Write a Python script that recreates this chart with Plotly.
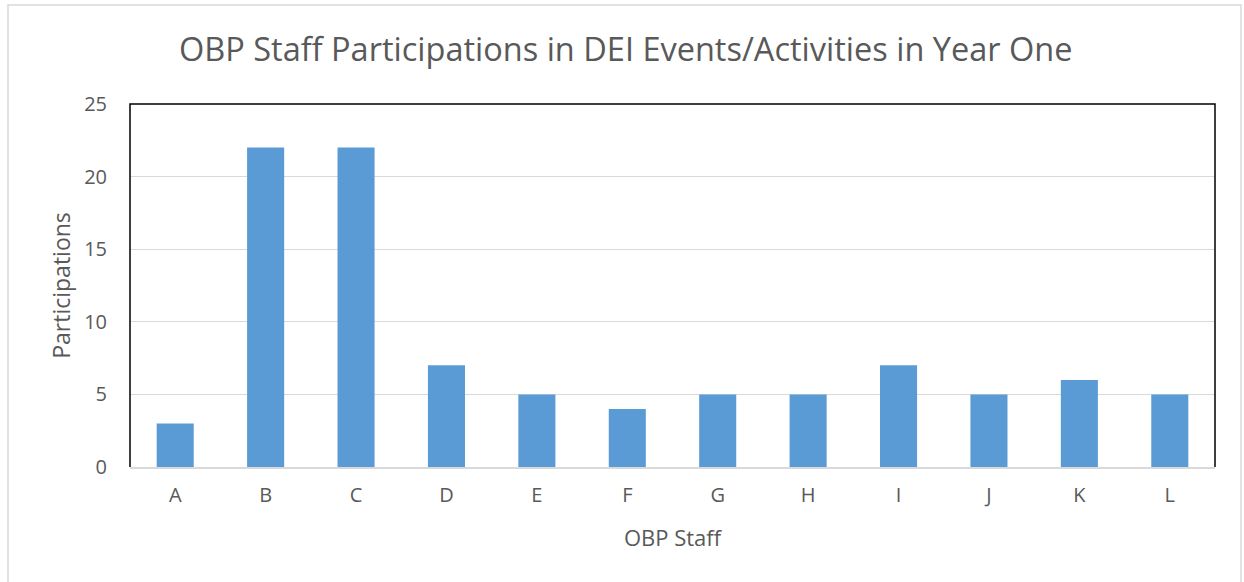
import plotly.graph_objects as go

staff = ["A", "B", "C", "D", "E", "F", "G", "H", "I", "J", "K", "L"]
participations = [3, 22, 22, 7, 5, 4, 5, 5, 7, 5, 6, 5]
y_ticks = [0, 5, 10, 15, 20, 25]

FONT = "Open Sans"
GRAY = "#595959"

fig = go.Figure(go.Bar(x=staff, y=participations, marker=dict(color="#5B9BD5", line=dict(width=0))))

fig.update_layout(
    width=1244, height=582,
    margin=dict(l=130, r=29, t=104, b=115),
    paper_bgcolor="white", plot_bgcolor="white",
    bargap=0.59,
    showlegend=False,
    title=dict(text="OBP Staff Participations in DEI Events/Activities in Year One",
               x=0.503, xanchor="center", y=1 - 50 / 582, yanchor="middle",
               font=dict(family=FONT, size=32.5, color=GRAY)),
    font=dict(family=FONT, color=GRAY, size=20),
    xaxis=dict(title=dict(text="OBP Staff", font=dict(size=22, color=GRAY), standoff=24),
               showline=True, linecolor="#D9D9D9", linewidth=1.5, ticks="",
               tickfont=dict(size=20, color=GRAY), ticklabelstandoff=9),
    yaxis=dict(title=dict(text="Participations", font=dict(size=23, color=GRAY), standoff=7),
               range=[0, 25], tickvals=y_ticks, showgrid=True, gridcolor="#D9D9D9",
               gridwidth=1, zeroline=False, showline=False, ticks="",
               tickfont=dict(size=20, color=GRAY), ticklabelstandoff=22),
    shapes=[
        dict(type="path", xref="paper", yref="paper", path="M 0 0 L 0 1 L 1 1 L 1 0",
             line=dict(color="black", width=1.5), layer="above"),
        dict(type="rect", xref="paper", yref="paper",
             x0=(8 - 130) / 1085, x1=(1241 - 130) / 1085,
             y0=(467 - 600) / 363, y1=(467 - 5) / 363,
             line=dict(color="#D9D9D9", width=1.5), layer="below"),
    ],
)

fig.write_html("out.html", config={"displayModeBar": False},
               post_script="document.body.style.margin='0';")
